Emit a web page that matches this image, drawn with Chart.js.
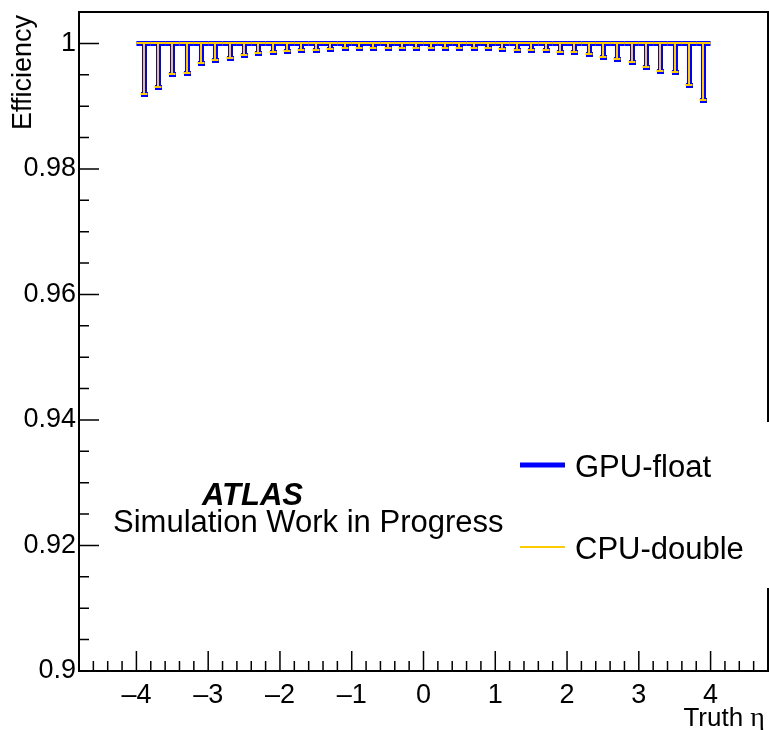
<!DOCTYPE html>
<html>
<head>
<meta charset="utf-8">
<script src="https://cdn.jsdelivr.net/npm/chart.js@4.4.1/dist/chart.umd.min.js"></script>
<style>
  html, body { margin: 0; padding: 0; background: #fff; }
  #wrap { width: 769px; height: 730px; position: relative; }
</style>
</head>
<body>
<div id="wrap"><canvas id="effChart"></canvas></div>
<script>
const binCenters = [-3.9, -3.7, -3.5, -3.3, -3.1, -2.9, -2.7, -2.5, -2.3, -2.1,
                    -1.9, -1.7, -1.5, -1.3, -1.1, -0.9, -0.7, -0.5, -0.3, -0.1,
                    0.1, 0.3, 0.5, 0.7, 0.9, 1.1, 1.3, 1.5, 1.7, 1.9,
                    2.1, 2.3, 2.5, 2.7, 2.9, 3.1, 3.3, 3.5, 3.7, 3.9];
const binWidth = 0.2;

const gpuEff = [1, 1, 1, 1, 1, 1, 1, 1, 1, 1, 1, 1, 1, 1, 1, 1, 1, 1, 1, 1,
                1, 1, 1, 1, 1, 1, 1, 1, 1, 1, 1, 1, 1, 1, 1, 1, 1, 1, 1, 1];
const gpuErrLow = [0.0081, 0.0070, 0.0048, 0.0047, 0.0032, 0.0027, 0.0023, 0.0019, 0.0015, 0.0013,
                   0.0012, 0.0011, 0.0010, 0.0009, 0.0008, 0.0007, 0.0007, 0.0007, 0.0007, 0.0007,
                   0.0007, 0.0007, 0.0007, 0.0008, 0.0008, 0.0009, 0.0010, 0.0010, 0.0011, 0.0013,
                   0.0014, 0.0017, 0.0021, 0.0025, 0.0030, 0.0037, 0.0044, 0.0046, 0.0066, 0.0091];

const cpuEff = [1, 1, 1, 1, 1, 1, 1, 1, 1, 1, 1, 1, 1, 1, 1, 1, 1, 1, 1, 1,
                1, 1, 1, 1, 1, 1, 1, 1, 1, 1, 1, 1, 1, 1, 1, 1, 1, 1, 1, 1];
const cpuErrLow = [0.0081, 0.0070, 0.0048, 0.0047, 0.0032, 0.0027, 0.0023, 0.0019, 0.0015, 0.0013,
                   0.0012, 0.0011, 0.0010, 0.0009, 0.0008, 0.0007, 0.0007, 0.0007, 0.0007, 0.0007,
                   0.0007, 0.0007, 0.0007, 0.0008, 0.0008, 0.0009, 0.0010, 0.0010, 0.0011, 0.0013,
                   0.0014, 0.0017, 0.0021, 0.0025, 0.0030, 0.0037, 0.0044, 0.0046, 0.0066, 0.0091];

const xTicks = [-4, -3, -2, -1, 0, 1, 2, 3, 4];
const xTickLabels = ['\u20134', '\u20133', '\u20132', '\u20131', '0', '1', '2', '3', '4'];
const yTicks = [0.9, 0.92, 0.94, 0.96, 0.98, 1];
const yTickLabels = ['0.9', '0.92', '0.94', '0.96', '0.98', '1'];

const FONT = '"Liberation Sans", Arial, Helvetica, sans-serif';
Chart.defaults.font.family = FONT;
Chart.defaults.color = '#000';

// ROOT-like frame, inward ticks, error bars, legend and labels
const rootStyle = {
  id: 'rootStyle',
  afterDraw(chart) {
    const {ctx, chartArea: a, scales: {x, y}} = chart;
    ctx.save();

    chart.data.datasets.forEach(ds => {
      const lw = ds.borderWidth;
      const off = (lw % 2) ? 0.5 : 0; // keep odd/even widths crisp
      ctx.strokeStyle = ds.borderColor;
      ctx.lineWidth = lw;
      ds.data.forEach((p, i) => {
        const xl = x.getPixelForValue(p.x - binWidth / 2);
        const xr = x.getPixelForValue(p.x + binWidth / 2);
        const xc = Math.round(x.getPixelForValue(p.x)) + off;
        const yv = Math.round(y.getPixelForValue(p.y)) + off;
        const yl = Math.round(y.getPixelForValue(p.y - ds.errLow[i])) + off;
        ctx.beginPath();
        ctx.moveTo(xl, yv); ctx.lineTo(xr, yv);
        ctx.moveTo(xc, yv); ctx.lineTo(xc, yl);
        ctx.moveTo(xc - 3.5, yl); ctx.lineTo(xc + 3.5, yl);
        ctx.stroke();
      });
    });

    // frame
    ctx.strokeStyle = '#000';
    ctx.lineWidth = 2;
    ctx.strokeRect(a.left, a.top, a.right - a.left, a.bottom - a.top);

    // ticks
    ctx.lineWidth = 1.5;
    ctx.beginPath();
    for (let k = -24; k <= 24; k++) {
      const px = x.getPixelForValue(k * 0.2);
      const len = (k % 5 === 0) ? 20 : 10;
      ctx.moveTo(px, a.bottom); ctx.lineTo(px, a.bottom - len);
    }
    for (let k = 0; k <= 21; k++) {
      const py = y.getPixelForValue(0.9 + k * 0.005);
      const len = (k % 4 === 0) ? 20 : 10;
      ctx.moveTo(a.left, py); ctx.lineTo(a.left + len, py);
    }
    ctx.stroke();

    // axis titles
    ctx.fillStyle = '#000';
    ctx.textBaseline = 'alphabetic';
    ctx.textAlign = 'right';
    ctx.font = '28px "Liberation Serif", serif';
    const etaW = ctx.measureText('\u03b7').width;
    ctx.fillText('\u03b7', 765, 726);
    ctx.font = '26px ' + FONT;
    ctx.fillText('Truth ', 765 - etaW, 726);

    ctx.save();
    ctx.translate(31, 15);
    ctx.rotate(-Math.PI / 2);
    ctx.font = '27px ' + FONT;
    ctx.fillText('Efficiency', 0, 0);
    ctx.restore();

    // ATLAS label
    ctx.textAlign = 'left';
    ctx.font = 'italic bold 31px ' + FONT;
    ctx.fillText('ATLAS', 202, 505);
    ctx.font = '31px ' + FONT;
    ctx.fillText('Simulation Work in Progress', 113, 532);

    // legend box
    ctx.fillStyle = '#fff';
    ctx.fillRect(510, 422, 260, 166);
    const legendY = [465, 547];
    chart.data.datasets.forEach((ds, i) => {
      ctx.strokeStyle = ds.borderColor;
      ctx.lineWidth = ds.legendWidth;
      ctx.beginPath();
      ctx.moveTo(520, legendY[i]); ctx.lineTo(565, legendY[i]);
      ctx.stroke();
      ctx.fillStyle = '#000';
      ctx.font = '31px ' + FONT;
      ctx.fillText(ds.label, 575, legendY[i] + 12);
    });

    ctx.restore();
  }
};

new Chart(document.getElementById('effChart'), {
  type: 'scatter',
  data: {
    datasets: [
      {
        label: 'GPU-float',
        data: binCenters.map((c, i) => ({x: c, y: gpuEff[i]})),
        errLow: gpuErrLow,
        borderColor: '#0000ff',
        borderWidth: 5,
        legendWidth: 5,
        pointRadius: 0,
        showLine: false
      },
      {
        label: 'CPU-double',
        data: binCenters.map((c, i) => ({x: c, y: cpuEff[i]})),
        errLow: cpuErrLow,
        borderColor: '#ffcc00',
        borderWidth: 2,
        legendWidth: 2,
        pointRadius: 0,
        showLine: false
      }
    ]
  },
  options: {
    responsive: true,
    maintainAspectRatio: false,
    animation: false,
    layout: { padding: { top: 12, right: 1, left: 0, bottom: 0 } },
    plugins: { legend: { display: false }, tooltip: { enabled: false } },
    scales: {
      x: {
        type: 'linear',
        min: -4.8,
        max: 4.8,
        grid: { display: false, drawTicks: false },
        border: { display: false },
        afterBuildTicks: s => { s.ticks = xTicks.map(v => ({value: v})); },
        afterFit: s => { s.height = 59; s.paddingLeft = 0; s.paddingRight = 0; },
        ticks: {
          padding: 8,
          maxRotation: 0,
          autoSkip: false,
          font: { size: 27 },
          callback: v => xTickLabels[xTicks.indexOf(v)]
        }
      },
      y: {
        type: 'linear',
        min: 0.9,
        max: 1.005,
        grid: { display: false, drawTicks: false },
        border: { display: false },
        afterBuildTicks: s => { s.ticks = yTicks.map(v => ({value: v})); },
        afterFit: s => { s.width = 79; s.paddingTop = 0; s.paddingBottom = 0; },
        ticks: {
          padding: 3,
          autoSkip: false,
          font: { size: 27 },
          callback: v => yTickLabels[yTicks.indexOf(v)]
        }
      }
    }
  },
  plugins: [rootStyle]
});
</script>
</body>
</html>
